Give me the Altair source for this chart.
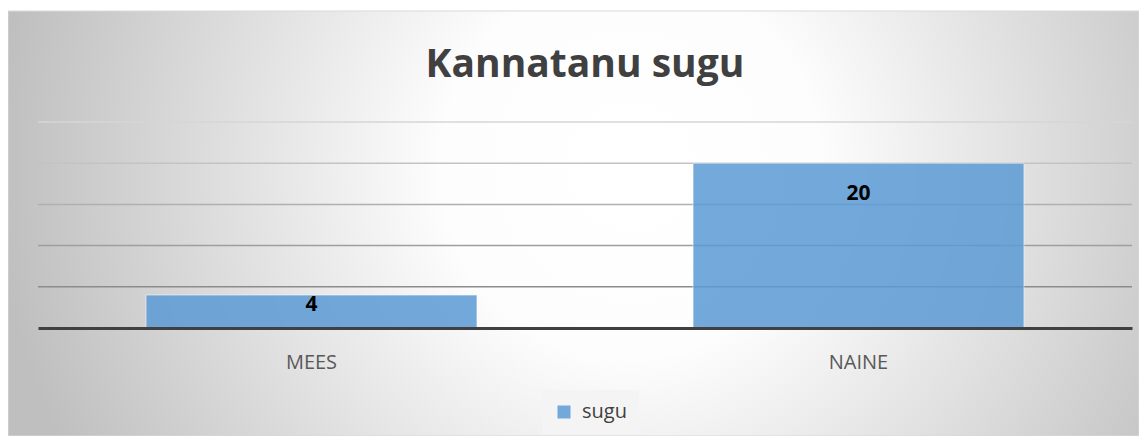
import altair as alt
import pandas as pd

# ---- data ----
categories = ["MEES", "NAINE"]
values = [4, 20]
series_name = "sugu"
grid_ticks = [5, 10, 15, 20, 25]
chart_title = "Kannatanu sugu"

df = pd.DataFrame({"category": categories, "value": values, "series": [series_name] * len(categories)})
grid_df = pd.DataFrame({"tick": grid_ticks})
panel_df = pd.DataFrame({"panel": [1]})

W, H = 1094, 206
PAD = {"left": 30, "top": 114, "right": 7, "bottom": 108}

gradient = {
    "gradient": "radial",
    "x1": 0.55, "y1": 0.45, "r1": 0,
    "x2": 0.55, "y2": 0.45, "r2": 0.56,
    "stops": [
        {"offset": 0, "color": "#ffffff"},
        {"offset": 0.3, "color": "#fdfdfd"},
        {"offset": 1, "color": "#bfbfbf"},
    ],
}

yscale = alt.Scale(domain=[0, 25], nice=False, zero=True)
xscale = alt.Scale(paddingInner=0.395, paddingOuter=0.1975)

background = alt.Chart(panel_df).mark_rect(
    fill=gradient, stroke="#d9d9d9", strokeWidth=1
).encode(
    x=alt.value(-PAD["left"]), x2=alt.value(W + PAD["right"]),
    y=alt.value(-(PAD["top"] - 3)), y2=alt.value(H + PAD["bottom"]),
)

grid = alt.Chart(grid_df).mark_rule(strokeWidth=1.5).encode(
    y=alt.Y("tick:Q", scale=yscale, axis=None),
    stroke=alt.Stroke("tick:Q", scale=alt.Scale(domain=[5, 25], range=["#8c8c8c", "#d6d6d6"]), legend=None),
)

base = alt.Chart(df).encode(
    x=alt.X("category:N", sort=None, scale=xscale, title=None,
            axis=alt.Axis(labelAngle=0, ticks=False, tickSize=0, grid=False,
                          domainColor="#404040", domainWidth=3,
                          labelFont="Open Sans", labelFontSize=20, labelColor="#595959",
                          labelBaseline="alphabetic", labelPadding=40, zindex=1)),
    y=alt.Y("value:Q", scale=yscale, axis=None),
)

bars = base.mark_bar(opacity=0.85, stroke="white", strokeOpacity=0.6, strokeWidth=1).encode(
    color=alt.Color("series:N", scale=alt.Scale(range=["#5B9BD5"]),
                    legend=alt.Legend(title=None, orient="none", legendX=504, legendY=268,
                                      symbolType="square", symbolSize=169, symbolOpacity=0.85,
                                      symbolStrokeWidth=0,
                                      labelFont="Open Sans", labelFontSize=20, labelColor="#404040",
                                      labelOffset=8, padding=12, fillColor="#f4f4f4"))
)

label_style = dict(font="Open Sans", fontSize=21, fontWeight="bold", color="#000000",
                   baseline="alphabetic", align="center")
labels_big = base.transform_filter(alt.datum.value >= 10).mark_text(dy=37, **label_style).encode(
    text=alt.Text("value:Q"))
labels_small = base.transform_filter(alt.datum.value < 10).mark_text(dy=16, **label_style).encode(
    text=alt.Text("value:Q"))

chart = alt.layer(background, grid, bars, labels_big, labels_small).properties(
    width=W, height=H,
    padding=PAD,
    autosize=alt.AutoSizeParams(type="none"),
    title=alt.TitleParams(chart_title, font="Open Sans", fontSize=39, fontWeight="bold",
                          color="#404040", anchor="middle", frame="group",
                          baseline="alphabetic", offset=44, dy=149),
).configure_view(stroke=None)

chart.save("out.html", embed_options={"renderer": "svg", "actions": False})
